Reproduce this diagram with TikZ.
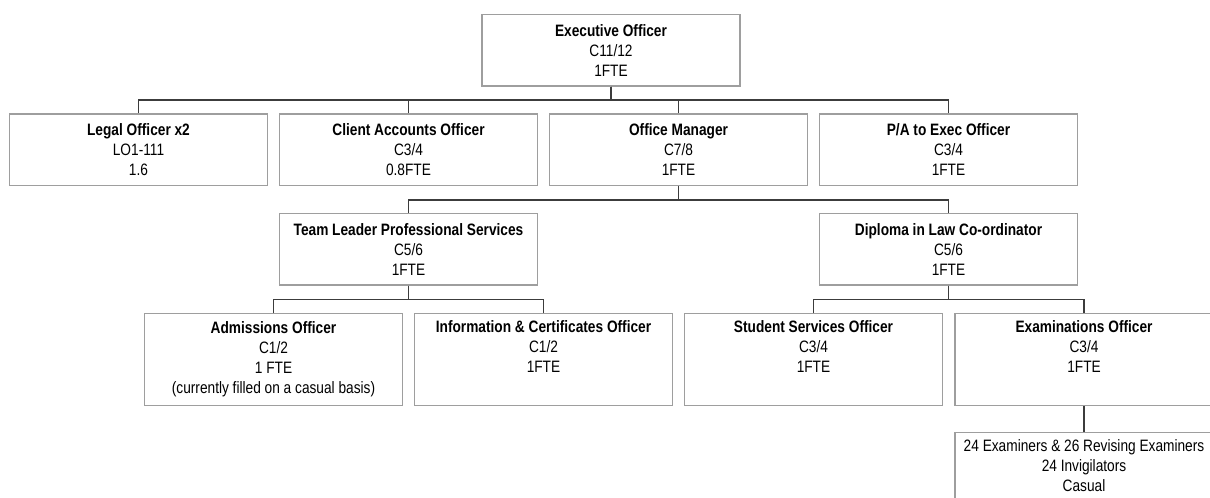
\documentclass[tikz,border=0pt]{standalone}
\usepackage{fontspec}
\setmainfont[FakeStretch=0.83]{Liberation Sans}
\definecolor{boxgrey}{RGB}{158,158,158}
\definecolor{linegrey}{RGB}{60,60,60}
\begin{document}
\begin{tikzpicture}[
    x=1bp, y=1bp,
    font=\fontsize{16.5bp}{20bp}\selectfont,
    puesto/.style={draw=boxgrey, line width=1.4bp, align=center, inner sep=0pt,
      minimum width=258.3bp, minimum height=71.7bp},
    alto/.style={puesto, minimum height=91.6bp},
    e/.style={draw=linegrey, line width=1.2bp}
  ]
    \useasboundingbox (0,0) rectangle (1210,-498);
    \clip (0,0) rectangle (1210,-498);

    % Nivel 0
    \node[puesto] (exec) at (611,-50.2) {\textbf{Executive Officer}\\C11/12\\1FTE};

    % Nivel 1
    \node[puesto] (legal)  at (138.5,-149.9) {\textbf{Legal Officer x2}\\LO1-111\\1.6};
    \node[puesto] (client) at (408.5,-149.9) {\textbf{Client Accounts Officer}\\C3/4\\0.8FTE};
    \node[puesto] (office) at (678.5,-149.9) {\textbf{Office Manager}\\C7/8\\1FTE};
    \node[puesto] (pa)     at (948.5,-149.9) {\textbf{P/A to Exec Officer}\\C3/4\\1FTE};

    % Nivel 2
    \node[puesto] (team)    at (408.5,-249.2) {\textbf{Team Leader Professional Services}\\C5/6\\1FTE};
    \node[puesto] (diploma) at (948.5,-249.2) {\textbf{Diploma in Law Co-ordinator}\\C5/6\\1FTE};

    % Nivel 3
    \node[alto] (admissions) at (273.5,-359.5)
      {\textbf{Admissions Officer}\\C1/2\\1 FTE\\(currently filled on a casual basis)};
    \node[alto] (info)    at (543.5,-359.5) {\textbf{Information \& Certificates Officer}\\C1/2\\1FTE\\\strut};
    \node[alto] (student) at (813.5,-359.5) {\textbf{Student Services Officer}\\C3/4\\1FTE\\\strut};
    \node[alto] (exams)   at (1084,-359.5) {\textbf{Examinations Officer}\\C3/4\\1FTE\\\strut};

    % Casuales
    \node[puesto, minimum height=67.2bp] (casual) at (1084,-466)
      {24 Examiners \& 26 Revising Examiners\\24 Invigilators\\Casual};

    % Conectores
    \foreach \c in {legal,client,office,pa} {
      \draw[e] (exec.south) -- ++(0,-13.3) -| (\c.north);
    }
    \foreach \c in {team,diploma} {
      \draw[e] (office.south) -- ++(0,-13.6) -| (\c.north);
    }
    \foreach \c in {admissions,info} {
      \draw[e] (team.south) -- ++(0,-14) -| (\c.north);
    }
    \foreach \c in {student,exams} {
      \draw[e] (diploma.south) -- ++(0,-14) -| (\c.north);
    }
    \draw[e] (exams.south) -- (casual.north);
  \end{tikzpicture}
\end{document}
